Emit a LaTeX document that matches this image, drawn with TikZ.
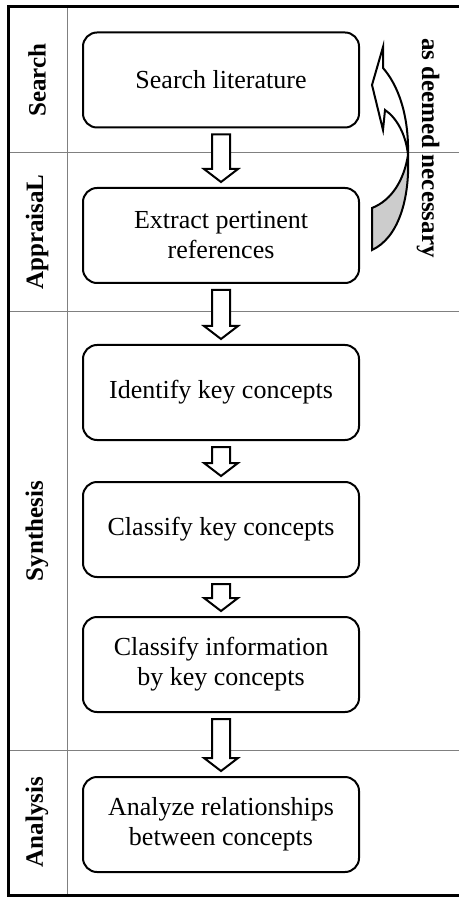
\documentclass[tikz,border=0pt]{standalone}
\usepackage{fontspec}
\setmainfont{Liberation Serif}
\usetikzlibrary{calc}

\tikzset{
  stepbox/.style={draw, rounded corners=7pt, line width=1pt, minimum width=138pt,
    minimum height=47.5pt, align=center, font=\fontsize{13}{15}\selectfont},
  lanelabel/.style={rotate=90, font=\fontsize{12.5}{15}\selectfont\bfseries},
  laneline/.style={draw=gray, line width=0.5pt},
  blockarrow/.style={draw, fill=white, line width=1pt, line join=miter},
}

% hollow down arrow between two boxes
\newcommand{\flowarrow}[2]{%
  \draw[blockarrow] let \p1=($(#1.south)+(0,-3pt)$), \p2=($(#2.north)+(0,2.5pt)$) in
    (\x1-4.5pt,\y1) -- (\x1+4.5pt,\y1) -- (\x1+4.5pt,\y2+6.5pt) -- (\x1+8.5pt,\y2+6.5pt)
    -- (\x1,\y2) -- (\x1-8.5pt,\y2+6.5pt) -- (\x1-4.5pt,\y2+6.5pt) -- cycle;}

\begin{document}
\begin{tikzpicture}[x=0.5pt, y=-0.5pt]
\useasboundingbox (0,0) rectangle (459,897);

% Lanes
\draw[laneline] (8,153) -- (459,153);
\draw[laneline] (8,312) -- (459,312);
\draw[laneline] (8,750) -- (459,750);
\draw[laneline] (67,7) -- (67,895);
\draw[line width=1.5pt] (459,7) -- (8,7) -- (8,895) -- (459,895);

\node[lanelabel] (search) at (37,80) {Search};
\node[lanelabel] (appraisal) at (37,232) {AppraisaL};
\node[lanelabel] (synthesis) at (37,531) {Synthesis};
\node[lanelabel] (analysis) at (37,822) {Analysis};

% Steps
\node[stepbox] (lit) at (221,80) {Search literature};
\node[stepbox] (refs) at (221,235.5) {Extract pertinent\\references};
\node[stepbox] (ident) at (221,392.5) {Identify key concepts};
\node[stepbox] (classk) at (221,529.5) {Classify key concepts};
\node[stepbox] (classi) at (221,664.5) {Classify information\\by key concepts};
\node[stepbox] (rel) at (221,824.5) {Analyze relationships\\between concepts};

\flowarrow{lit}{refs}
\flowarrow{refs}{ident}
\flowarrow{ident}{classk}
\flowarrow{classk}{classi}
\flowarrow{classi}{rel}

% Feedback arrow
\draw[fill=black!20, line width=1pt] (408,155) .. controls (410,200) and (398,238) .. (372,250)
  -- (372,208) .. controls (392,200) and (404,180) .. (408,155);
\draw[fill=white, line width=1pt, line join=miter] (408,155) .. controls (409,115) and (398,85) .. (383,68)
  -- (383,47) -- (372,85) -- (383,130) -- (385,110) .. controls (397,118) and (406,135) .. (408,155) -- cycle;
\node[rotate=-90, font=\fontsize{12.5}{15}\selectfont\bfseries] (note) at (428,148) {as deemed necessary};

\end{tikzpicture}
\end{document}
